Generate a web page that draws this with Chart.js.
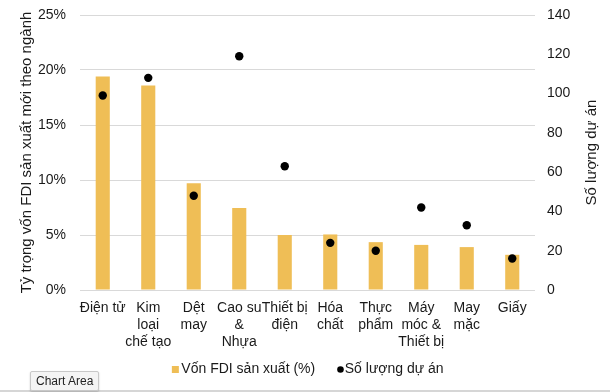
<!DOCTYPE html>
<html>
<head>
<meta charset="utf-8">
<script src="https://cdn.jsdelivr.net/npm/chart.js@4/dist/chart.umd.min.js"></script>
<style>
html,body{margin:0;padding:0;background:#fff;}
#wrap{position:relative;width:610px;height:392px;}
#tip{position:absolute;left:30px;top:371px;padding:2px 5px;font:12px "Liberation Sans",Arial,sans-serif;color:#222;background:#f4f4f4;border:1px solid #c8c8c8;border-radius:2px;box-shadow:0 1px 2px rgba(0,0,0,0.2);}
#bline{position:absolute;left:0;top:390px;width:610px;height:2px;background:#d6d6d6;}
</style>
</head>
<body>
<div id="wrap">
<canvas id="c" width="610" height="392"></canvas>
<div id="bline"></div>
<div id="tip">Chart Area</div>
</div>
<script>
const categories = [
  "Điện tử",
  ["Kim", "loại", "chế tạo"],
  ["Dệt", "may"],
  ["Cao su", "&", "Nhựa"],
  ["Thiết bị", "điện"],
  ["Hóa", "chất"],
  ["Thực", "phẩm"],
  ["Máy", "móc &", "Thiết bị"],
  ["May", "mặc"],
  "Giấy"
];
const fdiShare = [19.4, 18.6, 9.7, 7.45, 5.0, 5.05, 4.35, 4.1, 3.9, 3.2];
const projectCount = [99, 108, 48, 119, 63, 24, 20, 42, 33, 16];
const leftTicks = [0, 5, 10, 15, 20, 25];
const rightTicks = [0, 20, 40, 60, 80, 100, 120, 140];
const leftTitle = 'Tỷ trọng vốn FDI sản xuất mới theo ngành';
const rightTitle = 'Số lượng dự án';

const FONT = '"Liberation Sans", Arial, sans-serif';
const TEXT = '#1a1a1a';
Chart.defaults.font.family = FONT;
Chart.defaults.color = TEXT;

const axisTitles = {
  id: 'axisTitles',
  afterDraw(chart) {
    const ctx = chart.ctx;
    const a = chart.chartArea;
    const cy = (a.top + a.bottom) / 2;
    ctx.save();
    ctx.fillStyle = TEXT;
    ctx.font = '15px ' + FONT;
    ctx.textAlign = 'center';
    ctx.textBaseline = 'middle';
    [[27, leftTitle], [592, rightTitle]].forEach(([x, t]) => {
      ctx.save();
      ctx.translate(x, cy);
      ctx.rotate(-Math.PI / 2);
      ctx.fillText(t, 0, 0);
      ctx.restore();
    });
    ctx.restore();
  }
};

const bottomLegend = {
  id: 'bottomLegend',
  afterDraw(chart) {
    const ctx = chart.ctx;
    const ds = chart.data.datasets;
    ctx.save();
    ctx.font = '14px ' + FONT;
    ctx.textBaseline = 'middle';
    ctx.textAlign = 'left';
    const y = 369.5;
    const w1 = ctx.measureText(ds[0].label).width;
    const w2 = ctx.measureText(ds[1].label).width;
    const total = 7 + 2.5 + w1 + 22 + 6.6 + 1 + w2;
    let x = 307.7 - total / 2;
    ctx.fillStyle = ds[0].backgroundColor;
    ctx.fillRect(x, y - 3.5, 7, 7);
    x += 9.5;
    ctx.fillStyle = TEXT;
    ctx.fillText(ds[0].label, x, y);
    x += w1 + 22;
    ctx.fillStyle = ds[1].pointBackgroundColor;
    ctx.beginPath();
    ctx.arc(x + 3.3, y, 3.3, 0, Math.PI * 2);
    ctx.fill();
    x += 7.6;
    ctx.fillStyle = TEXT;
    ctx.fillText(ds[1].label, x, y);
    ctx.restore();
  }
};

const vFit = (w) => (s) => { s.width = w; s.paddingTop = 0; s.paddingBottom = 0; };

new Chart(document.getElementById('c'), {
  data: {
    labels: categories,
    datasets: [
      {
        type: 'bar',
        label: 'Vốn FDI sản xuất (%)',
        data: fdiShare,
        yAxisID: 'y',
        backgroundColor: '#EFBE56',
        categoryPercentage: 1,
        barPercentage: 0.31,
        order: 2
      },
      {
        type: 'line',
        label: 'Số lượng dự án',
        data: projectCount,
        yAxisID: 'y2',
        showLine: false,
        pointRadius: 4.2,
        pointHoverRadius: 4.2,
        pointBorderWidth: 0,
        pointBackgroundColor: '#000',
        pointBorderColor: '#000',
        backgroundColor: '#000',
        borderColor: '#000',
        order: 1
      }
    ]
  },
  plugins: [axisTitles, bottomLegend],
  options: {
    responsive: false,
    animation: false,
    layout: { padding: { left: 0, right: 0, top: 15, bottom: 42 } },
    plugins: {
      tooltip: { enabled: false },
      legend: { display: false }
    },
    scales: {
      x: {
        grid: { display: false },
        border: { display: false },
        ticks: { maxRotation: 0, autoSkip: false, font: { size: 14 }, padding: 2, color: TEXT },
        afterFit: (s) => { s.height = 60; }
      },
      y: {
        position: 'left',
        min: 0, max: 25,
        afterBuildTicks: (s) => { s.ticks = leftTicks.map(v => ({ value: v })); },
        ticks: { callback: (v) => v + '%', font: { size: 14 }, padding: 14, color: TEXT },
        grid: { color: '#d9d9d9', lineWidth: 1, drawTicks: false },
        border: { display: false },
        afterFit: vFit(80)
      },
      y2: {
        position: 'right',
        min: 0, max: 140,
        afterBuildTicks: (s) => { s.ticks = rightTicks.map(v => ({ value: v })); },
        ticks: { font: { size: 14 }, padding: 12, color: TEXT },
        grid: { display: false, drawTicks: false },
        border: { display: false },
        afterFit: vFit(75)
      }
    }
  }
});
</script>
</body>
</html>
